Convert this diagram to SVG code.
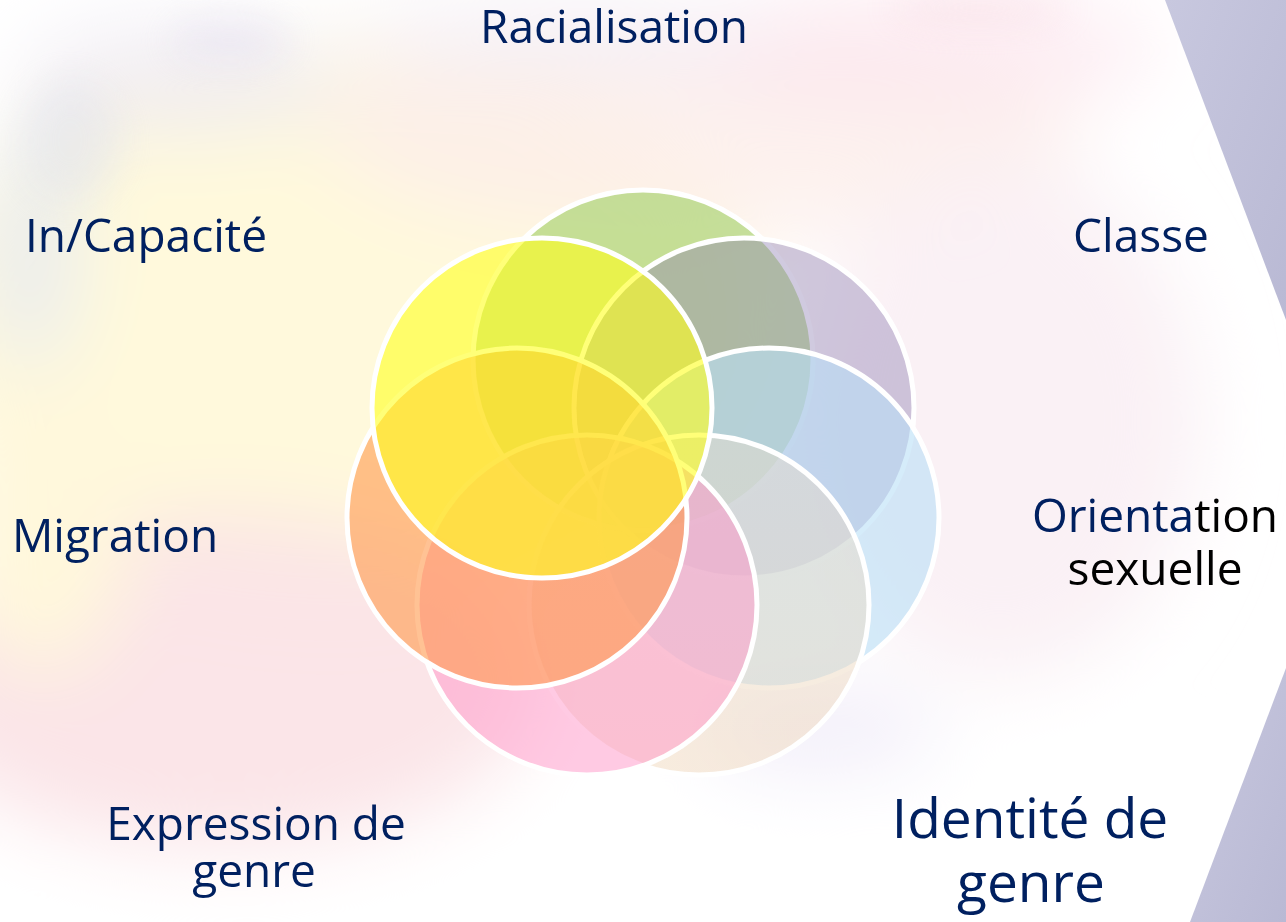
<svg xmlns="http://www.w3.org/2000/svg" width="1286" height="922" viewBox="0 0 1286 922">
  <defs>
    <filter id="blur" x="-30%" y="-30%" width="160%" height="160%">
      <feGaussianBlur stdDeviation="40"/>
    </filter>
    <filter id="blurS" x="-30%" y="-30%" width="160%" height="160%">
      <feGaussianBlur stdDeviation="18"/>
    </filter>
    <linearGradient id="chev" x1="0" y1="0" x2="1" y2="1">
      <stop offset="0" stop-color="#C8C8DF"/>
      <stop offset="1" stop-color="#B9B9D4"/>
    </linearGradient>
    <linearGradient id="beigeG" x1="0" y1="0" x2="0" y2="1">
      <stop offset="0" stop-color="#E6DCCD"/>
      <stop offset="1" stop-color="#F0D8BC"/>
    </linearGradient>
    <style>
      .c { stroke: #FFFFFF; stroke-width: 5; }
      .lbl { font-family: "Open Sans", "Liberation Sans", sans-serif; font-size: 46px; fill: #002060; text-anchor: middle; }
      .big { font-size: 55px; }
      .blk { fill: #000000; }
    </style>
  </defs>

  <!-- background wash -->
  <g id="background">
    <rect x="0" y="0" width="1286" height="922" fill="#FFFFFF"/>
    <g filter="url(#blur)">
      <ellipse cx="330" cy="320" rx="420" ry="280" fill="#FFF9DC"/>
      <ellipse cx="700" cy="130" rx="380" ry="110" fill="#FCEDEA" opacity="0.8"/>
      <ellipse cx="920" cy="50" rx="240" ry="60" fill="#FCE6EE" opacity="0.7"/>
      <ellipse cx="220" cy="680" rx="320" ry="170" fill="#FBE2E5" opacity="0.9"/>
      <ellipse cx="1000" cy="420" rx="200" ry="260" fill="#FAF0F4" opacity="0.9"/>
      <ellipse cx="30" cy="250" rx="50" ry="120" fill="#E6EAF1" opacity="0.8"/>
      <ellipse cx="180" cy="80" rx="160" ry="55" fill="#EEEAF3" opacity="0.8"/>
      <ellipse cx="560" cy="40" rx="220" ry="40" fill="#F2ECF5" opacity="0.7"/>
      <ellipse cx="40" cy="520" rx="90" ry="150" fill="#FFF8DC"/>
      <ellipse cx="820" cy="730" rx="120" ry="40" fill="#EEE8F8" opacity="0.8"/>
      <ellipse cx="980" cy="860" rx="320" ry="100" fill="#FFFFFF"/>
      <ellipse cx="260" cy="900" rx="300" ry="50" fill="#FFFFFF"/>
    </g>
    <g filter="url(#blurS)" opacity="0.4">
      <ellipse cx="70" cy="140" rx="50" ry="60" fill="#DCDFEE"/>
      <ellipse cx="230" cy="40" rx="60" ry="22" fill="#E0DAEE"/>
      <ellipse cx="980" cy="8" rx="90" ry="12" fill="#F6CCD8"/>
    </g>
  </g>

  <!-- chevron shape on the right -->
  <g id="chevron">
    <polygon points="1165,0 1286,0 1286,320" fill="url(#chev)"/>
    <polygon points="1286,668 1286,922 1190,922" fill="url(#chev)"/>
  </g>

  <!-- overlapping circles -->
  <g id="circles">
    <g id="circle-racialisation"><circle class="c" cx="643" cy="360" r="170" fill="#9FCF63" fill-opacity="0.6"/></g>
    <g id="circle-classe"><circle class="c" cx="744" cy="408" r="170" fill="#8E80B2" fill-opacity="0.42"/></g>
    <g id="circle-orientation"><circle class="c" cx="769" cy="518" r="170" fill="#B9DFF7" fill-opacity="0.6"/></g>
    <g id="circle-identite"><circle class="c" cx="699" cy="605" r="170" fill="url(#beigeG)" fill-opacity="0.5"/></g>
    <g id="circle-expression"><circle class="c" cx="587" cy="605" r="170" fill="#FF96C8" fill-opacity="0.5"/></g>
    <g id="circle-migration"><circle class="c" cx="517" cy="518" r="170" fill="#FF994D" fill-opacity="0.6"/></g>
    <g id="circle-incapacite"><circle class="c" cx="542" cy="408" r="170" fill="#FFFF1E" fill-opacity="0.6"/></g>
  </g>

  <!-- labels -->
  <g id="labels">
    <text id="t-racialisation" class="lbl" x="614" y="43">Racialisation</text>
    <text id="t-incapacite" class="lbl" x="146" y="252">In/Capacité</text>
    <text id="t-classe" class="lbl" x="1141" y="252">Classe</text>
    <text id="t-migration" class="lbl" x="115" y="552">Migration</text>
    <g id="t-orientation">
      <text class="lbl" x="1155" y="532">Orienta<tspan class="blk">tion</tspan></text>
      <text class="lbl blk" x="1155" y="585">sexuelle</text>
    </g>
    <g id="t-expression">
      <text class="lbl" x="256" y="840">Expression de</text>
      <text class="lbl" x="254" y="887">genre</text>
    </g>
    <g id="t-identite">
      <text class="lbl big" x="1030" y="838">Identité de</text>
      <text class="lbl big" x="1031" y="902">genre</text>
    </g>
  </g>
</svg>
